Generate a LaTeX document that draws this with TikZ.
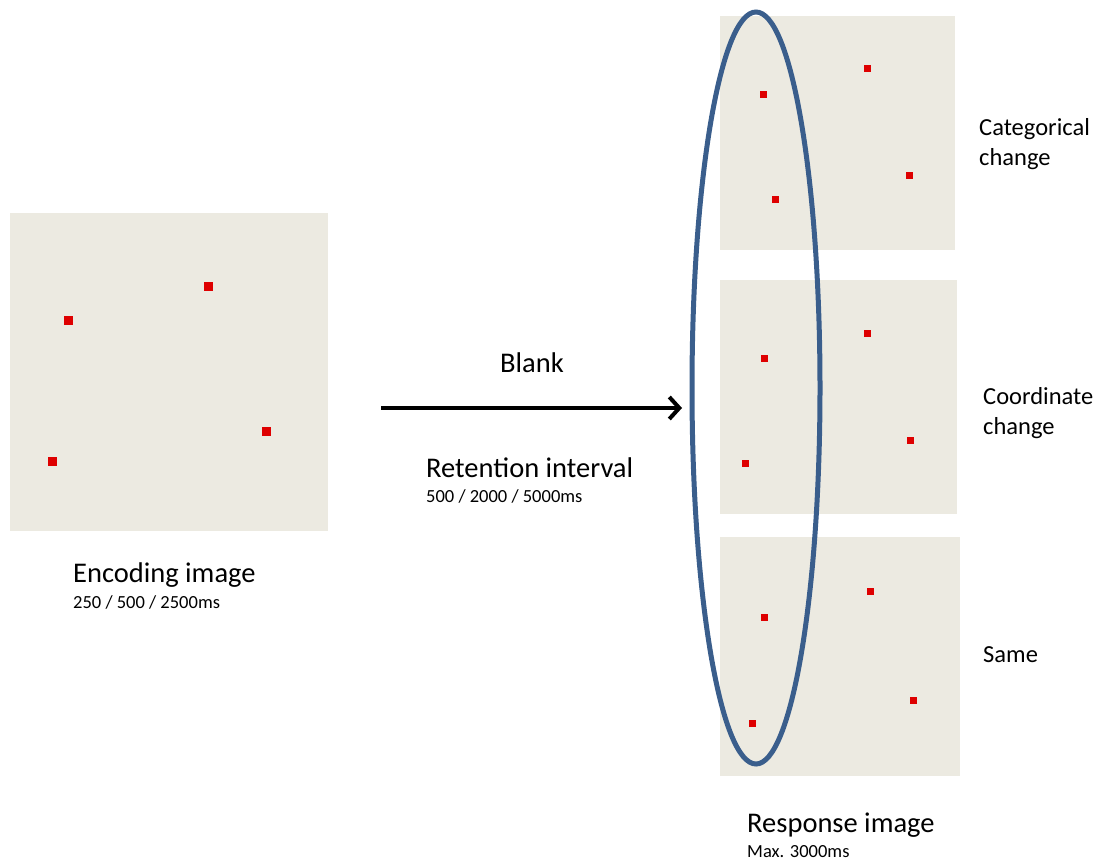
\documentclass[tikz,border=0pt]{standalone}
\usepackage{fontspec}
\setmainfont{Carlito}
\usetikzlibrary{positioning,arrows.meta}

\definecolor{panelgrey}{RGB}{236,234,225}
\definecolor{dotred}{RGB}{222,0,0}
\definecolor{ringblue}{RGB}{58,94,140}

\begin{document}
\begin{tikzpicture}[
  x=1pt, y=-1pt,
  panel/.style={fill=panelgrey, inner sep=0pt},
  bigdot/.style={fill=dotred, minimum size=9pt, inner sep=0pt},
  dot/.style={fill=dotred, minimum size=7pt, inner sep=0pt},
  mainlab/.style={font=\fontsize{28.5}{31}\selectfont, inner sep=0pt, anchor=base west},
  timing/.style={font=\fontsize{18.5}{20}\selectfont, inner sep=0pt, anchor=base west},
  sidelab/.style={font=\fontsize{24.5}{29.5}\selectfont, inner sep=0pt, anchor=base west, align=left},
  ring/.style={draw=ringblue, line width=5pt},
  arrow/.style={-{Straight Barb[length=10pt,width=22pt]}, line width=4pt}
]
\useasboundingbox (0,0) rectangle (1099,861);

% encoding image
\node[panel, minimum width=318pt, minimum height=318pt] (enc) at (169,372) {};
\node[bigdot] (e1) at (68,320) {};
\node[bigdot] (e2) at (208,286) {};
\node[bigdot] (e3) at (266,431) {};
\node[bigdot] (e4) at (52,461) {};
\node[mainlab] (encl) at (73,582) {Encoding image};
\node[timing] (enct) at ([yshift=-26pt]encl.base west) {250 / 500 / 2500ms};

% blank interval
\coordinate (arrs) at (381,408);
\coordinate (arre) at (682,408);
\draw[arrow] (arrs) -- (arre);
\node[mainlab] (blank) at (500,372) {Blank};
\node[mainlab] (ret) at (426,477) {Retention interval};
\node[timing] (rett) at ([yshift=-25pt]ret.base west) {500 / 2000 / 5000ms};

% response images
\node[panel, minimum width=235pt, minimum height=234pt] (r1) at (837.5,133) {};
\node[dot] (a1) at (763,95) {};
\node[dot] (a2) at (867,69) {};
\node[dot] (a3) at (909,176) {};
\node[dot] (a4) at (775,199) {};

\node[panel, minimum width=237pt, minimum height=234pt] (r2) at (838.5,397) {};
\node[dot] (b1) at (764,358) {};
\node[dot] (b2) at (867,333) {};
\node[dot] (b3) at (910,440) {};
\node[dot] (b4) at (745,463) {};

\node[panel, minimum width=240pt, minimum height=239pt] (r3) at (840,656.5) {};
\node[dot] (c1) at (764,617) {};
\node[dot] (c2) at (870,591) {};
\node[dot] (c3) at (913,700) {};
\node[dot] (c4) at (752,723) {};

\draw[ring] (756,388) ellipse [x radius=64, y radius=376];

% base of a two-line label is its last line
\node[sidelab] (cat) at (979,165) {Categorical\\change};
\node[sidelab] (coord) at (983,434) {Coordinate\\change};
\node[sidelab] (same) at (983,662) {Same};

\node[mainlab] (resl) at (747,832) {Response image};
\node[timing] (rest) at ([yshift=-25pt]resl.base west) {Max. 3000ms};
\end{tikzpicture}
\end{document}
